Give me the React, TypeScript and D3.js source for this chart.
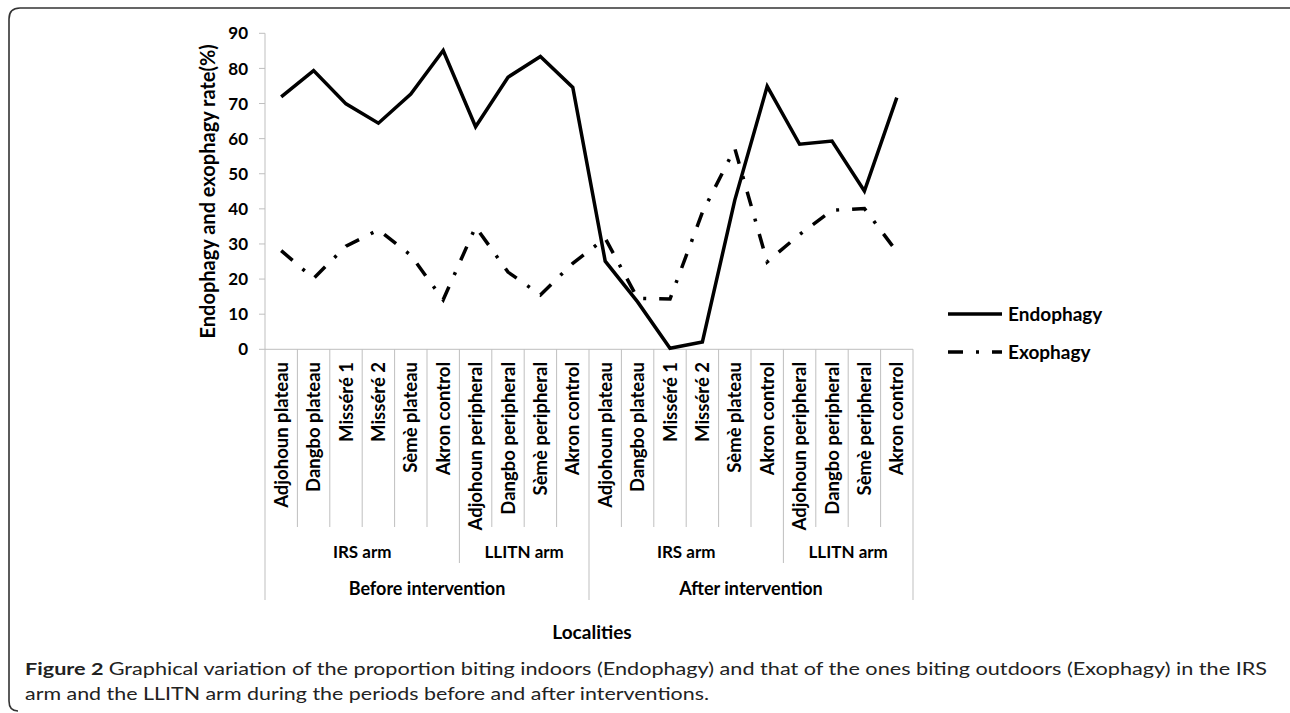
import * as d3 from "d3";
import React, { useEffect, useRef } from "react";

// Localities, repeated for the before / after periods
const localities = [
  "Adjohoun plateau",
  "Dangbo plateau",
  "Misséré 1",
  "Misséré 2",
  "Sèmè plateau",
  "Akron control",
  "Adjohoun peripheral",
  "Dangbo peripheral",
  "Sèmè peripheral",
  "Akron control",
  "Adjohoun plateau",
  "Dangbo plateau",
  "Misséré 1",
  "Misséré 2",
  "Sèmè plateau",
  "Akron control",
  "Adjohoun peripheral",
  "Dangbo peripheral",
  "Sèmè peripheral",
  "Akron control",
];

const arms = [
  { label: "IRS arm", count: 6 },
  { label: "LLITN arm", count: 4 },
  { label: "IRS arm", count: 6 },
  { label: "LLITN arm", count: 4 },
];

const periods = [
  { label: "Before intervention", count: 10 },
  { label: "After intervention", count: 10 },
];

const endophagy = [
  71.9, 79.4, 69.9, 64.4, 72.7, 85.1, 63.4, 77.5, 83.4, 74.6,
  25.1, 13.5, 0.3, 2.1, 42.5, 74.9, 58.4, 59.3, 45.1, 71.7,
];

const exophagy = [
  28.1, 20.2, 29.4, 34.0, 26.8, 14.1, 34.9, 22.0, 15.5, 24.5,
  31.6, 14.5, 14.3, 39.0, 57.2, 24.9, 32.7, 39.6, 40.1, 27.8,
];

const yTicks = [0, 10, 20, 30, 40, 50, 60, 70, 80, 90];

const FONT = "Lato, 'Open Sans', sans-serif";

const App: React.FC = () => {
  const svgRef = useRef<SVGSVGElement | null>(null);

  useEffect(() => {
    if (!svgRef.current) return;
    const svg = d3.select(svgRef.current);
    svg.selectAll("*").remove();

    const margin = { left: 265, right: 913, top: 33.3, bottom: 349.3 };

    const x = d3
      .scaleBand<number>()
      .domain(d3.range(localities.length))
      .range([margin.left, margin.right]);
    const y = d3.scaleLinear().domain([0, 90]).range([margin.bottom, margin.top]);
    const cx = (i: number) => x(i)! + x.bandwidth() / 2;

    // frame
    svg
      .append("path")
      .attr("d", "M1290,8 H20 Q9,8 9,19 V701 Q9,711 18,711")
      .attr("fill", "none")
      .attr("stroke", "#333")
      .attr("stroke-width", 1.6);

    const grey = "#bfbfbf";

    // y axis
    svg
      .append("line")
      .attr("x1", margin.left)
      .attr("x2", margin.left)
      .attr("y1", y(90))
      .attr("y2", y(0))
      .attr("stroke", grey);
    const yg = svg.append("g");
    yTicks.forEach((t) => {
      yg.append("line")
        .attr("x1", margin.left - 6)
        .attr("x2", margin.left)
        .attr("y1", y(t))
        .attr("y2", y(t))
        .attr("stroke", grey);
      yg.append("text")
        .attr("x", 248)
        .attr("y", y(t))
        .attr("dy", "0.36em")
        .attr("text-anchor", "end")
        .attr("font-family", FONT)
        .attr("font-weight", "bold")
        .attr("font-size", 17)
        .text(t);
    });

    svg
      .append("text")
      .attr("transform", `translate(215,${(y(0) + y(90)) / 2}) rotate(-90)`)
      .attr("text-anchor", "middle")
      .attr("font-family", FONT)
      .attr("font-weight", "bold")
      .attr("font-size", 20)
      .text("Endophagy and exophagy rate(%)");

    // x axis line
    svg
      .append("line")
      .attr("x1", margin.left)
      .attr("x2", margin.right)
      .attr("y1", y(0))
      .attr("y2", y(0))
      .attr("stroke", grey);

    // separators (multi-level category axis)
    const armEdges = new Set<number>();
    let acc = 0;
    arms.forEach((a) => {
      acc += a.count;
      armEdges.add(acc);
    });
    const periodEdges = new Set<number>([0]);
    acc = 0;
    periods.forEach((p) => {
      acc += p.count;
      periodEdges.add(acc);
    });
    for (let i = 0; i <= localities.length; i++) {
      const bx = margin.left + i * x.bandwidth();
      const bottom = periodEdges.has(i) ? 600 : armEdges.has(i) ? 563 : 527;
      svg
        .append("line")
        .attr("x1", bx)
        .attr("x2", bx)
        .attr("y1", y(0))
        .attr("y2", bottom)
        .attr("stroke", grey);
    }

    // locality labels
    localities.forEach((name, i) => {
      svg
        .append("text")
        .attr("transform", `translate(${cx(i) + 6.5},362) rotate(-90)`)
        .attr("text-anchor", "end")
        .attr("font-family", FONT)
        .attr("font-weight", "bold")
        .attr("font-size", 18.5)
        .text(name);
    });

    // arm labels
    let start = 0;
    arms.forEach((a) => {
      const mid = margin.left + (start + a.count / 2) * x.bandwidth();
      svg
        .append("text")
        .attr("x", mid)
        .attr("y", 558)
        .attr("text-anchor", "middle")
        .attr("font-family", FONT)
        .attr("font-weight", "bold")
        .attr("font-size", 17)
        .text(a.label);
      start += a.count;
    });

    // period labels
    start = 0;
    periods.forEach((p) => {
      const mid = margin.left + (start + p.count / 2) * x.bandwidth();
      svg
        .append("text")
        .attr("x", mid)
        .attr("y", 595)
        .attr("text-anchor", "middle")
        .attr("font-family", FONT)
        .attr("font-weight", "bold")
        .attr("font-size", 18)
        .text(p.label);
      start += p.count;
    });

    svg
      .append("text")
      .attr("x", 592)
      .attr("y", 639)
      .attr("text-anchor", "middle")
      .attr("font-family", FONT)
      .attr("font-weight", "bold")
      .attr("font-size", 19)
      .text("Localities");

    // series
    const line = d3
      .line<number>()
      .x((_, i) => cx(i))
      .y((d) => y(d));

    svg
      .append("path")
      .datum(exophagy)
      .attr("fill", "none")
      .attr("stroke", "#000")
      .attr("stroke-width", 3.5)
      .attr("stroke-dasharray", "15,13,3,13")
      .attr("d", line);

    svg
      .append("path")
      .datum(endophagy)
      .attr("fill", "none")
      .attr("stroke", "#000")
      .attr("stroke-width", 3.5)
      .attr("stroke-linejoin", "miter")
      .attr("d", line);

    // legend
    const legend = [
      { label: "Endophagy", dash: null as string | null, y: 314 },
      { label: "Exophagy", dash: "15,13,3,13", y: 352 },
    ];
    legend.forEach((l) => {
      svg
        .append("line")
        .attr("x1", 948)
        .attr("x2", 1002)
        .attr("y1", l.y)
        .attr("y2", l.y)
        .attr("stroke", "#000")
        .attr("stroke-width", 3.5)
        .attr("stroke-dasharray", l.dash);
      svg
        .append("text")
        .attr("x", 1008)
        .attr("y", l.y)
        .attr("dy", "0.36em")
        .attr("font-family", FONT)
        .attr("font-weight", "bold")
        .attr("font-size", 19)
        .text(l.label);
    });

    // caption
    const cap1 = svg
      .append("text")
      .attr("x", 25)
      .attr("y", 675)
      .attr("font-family", FONT)
      .attr("font-size", 17.5)
      .attr("fill", "#222")
      .attr("textLength", 1242)
      .attr("lengthAdjust", "spacingAndGlyphs");
    cap1.append("tspan").attr("font-weight", "bold").text("Figure 2 ");
    cap1
      .append("tspan")
      .text(
        "Graphical variation of the proportion biting indoors (Endophagy) and that of the ones biting outdoors (Exophagy) in the IRS"
      );
    svg
      .append("text")
      .attr("x", 25)
      .attr("y", 700)
      .attr("font-family", FONT)
      .attr("font-size", 17.5)
      .attr("fill", "#222")
      .attr("textLength", 684)
      .attr("lengthAdjust", "spacingAndGlyphs")
      .text("arm and the LLITN arm during the periods before and after interventions.");
  }, []);

  return (
    <svg
      ref={svgRef}
      width={1290}
      height={713}
      style={{ position: "absolute", left: 0, top: 0, background: "#fff" }}
    />
  );
};

export default App;
